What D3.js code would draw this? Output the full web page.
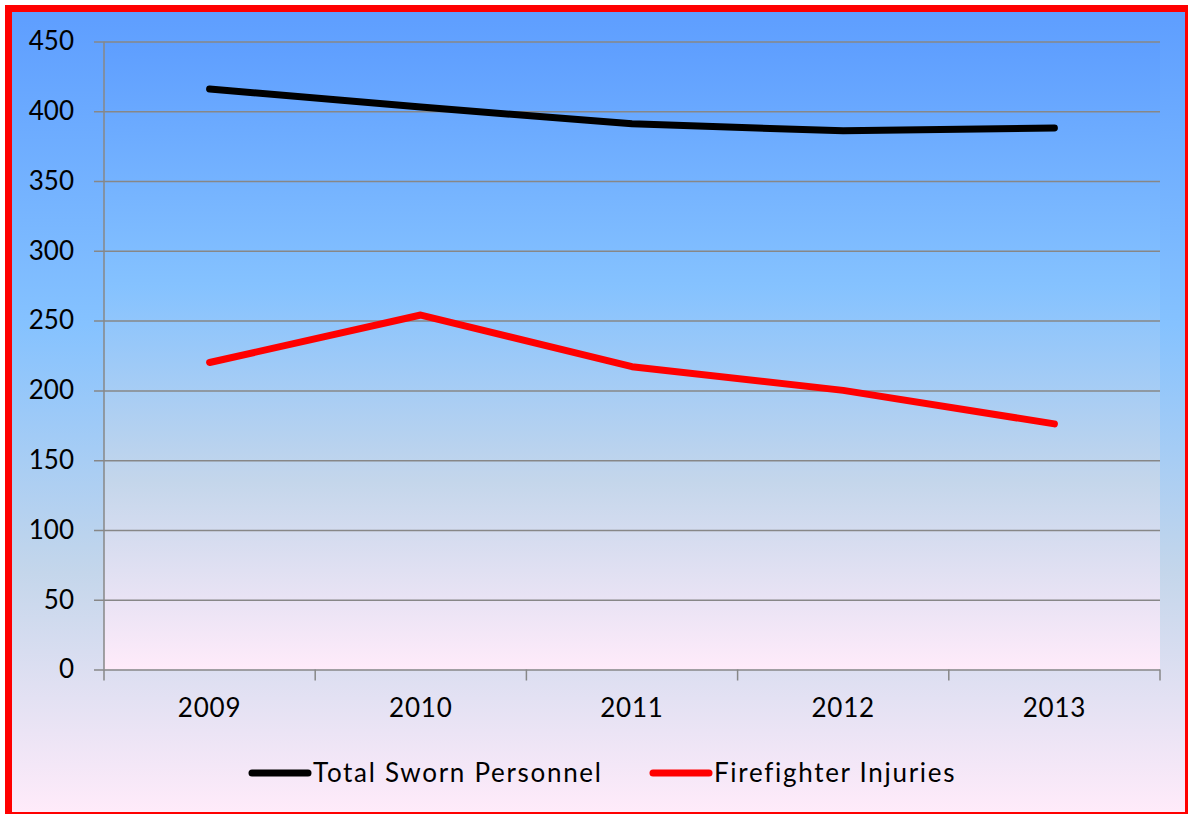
<!DOCTYPE html>
<html>
<head>
<meta charset="utf-8">
<script src="https://cdn.jsdelivr.net/npm/d3@7"></script>
<style>
body { margin: 0; background: #fff; }
text { font-family: Lato, "Open Sans", sans-serif; fill: #000; }
</style>
</head>
<body>
<svg width="1188" height="814"></svg>
<script>
const years = ["2009", "2010", "2011", "2012", "2013"]
const sworn = [416, 403, 391, 386, 388]
const injuries = [220, 254, 217, 200, 176]
const yTicks = [0, 50, 100, 150, 200, 250, 300, 350, 400, 450]
const seriesNames = ["Total Sworn Personnel", "Firefighter Injuries"]
const seriesColors = ["#000000", "#ff0000"]

const svg = d3.select("svg")
const plot = {left: 104, right: 1160, top: 41.5, bottom: 669.5}

// gradients
const defs = svg.append("defs")
function daybreak(id) {
  const g = defs.append("linearGradient")
    .attr("id", id)
    .attr("x1", 0).attr("y1", 0).attr("x2", 0).attr("y2", 1)
  const stops = [[0, "#5e9eff"], [0.39, "#85c2ff"], [0.7, "#c4d6eb"], [1, "#ffebfa"]]
  stops.forEach(s => g.append("stop").attr("offset", s[0]).attr("stop-color", s[1]))
}
daybreak("bg")
daybreak("plotbg")

// frame
svg.append("rect")
  .attr("x", 5).attr("y", 5).attr("width", 1183).attr("height", 809)
  .attr("fill", "#ff0000")
svg.append("rect")
  .attr("x", 12).attr("y", 12).attr("width", 1173).attr("height", 800)
  .attr("fill", "url(#bg)")
svg.append("rect")
  .attr("x", plot.left).attr("y", plot.top)
  .attr("width", plot.right - plot.left).attr("height", plot.bottom - plot.top)
  .attr("fill", "url(#plotbg)")

const x = d3.scaleBand()
  .domain(years)
  .range([plot.left, plot.right])
  .padding(0)

const y = d3.scaleLinear()
  .domain([0, 450])
  .range([plot.bottom, plot.top])

const cx = d => x(d) + x.bandwidth() / 2

// y axis with gridlines
const yAxis = svg.append("g")
  .attr("transform", `translate(${plot.left}, 0)`)
  .call(d3.axisLeft(y)
    .tickValues(yTicks)
    .tickSize(-(plot.right - plot.left))
    .tickPadding(30)
    .tickFormat(d3.format("d")))
yAxis.select(".domain").attr("stroke", "#878787").attr("stroke-width", 1.5)
  .attr("d", `M0,${plot.top}V${plot.bottom}`)
yAxis.selectAll(".tick line")
  .attr("x1", -10)
  .attr("stroke", "#878787").attr("stroke-width", 1.5)
yAxis.selectAll(".tick text")
  .attr("font-size", 26)
  .attr("font-family", "Lato, sans-serif")
  .attr("fill", "#000")

// x axis
const xAxis = svg.append("g")
  .attr("transform", `translate(0, ${plot.bottom})`)
  .call(d3.axisBottom(x).tickSize(0).tickPadding(30))
xAxis.select(".domain").remove()
xAxis.selectAll(".tick text")
  .attr("font-size", 26)
  .attr("font-family", "Lato, sans-serif")
  .attr("fill", "#000")
  .attr("letter-spacing", 0.8)
  .attr("dy", "0.71em")
  .attr("y", 29)

const bounds = years.map(d => x(d)).concat([plot.right])
svg.append("g")
  .selectAll("line")
  .data(bounds)
  .join("line")
  .attr("x1", d => d).attr("x2", d => d)
  .attr("y1", plot.bottom).attr("y2", plot.bottom + 11)
  .attr("stroke", "#878787").attr("stroke-width", 1.5)

// lines
const line = d3.line()
  .x((d, i) => cx(years[i]))
  .y(d => y(d))

;[sworn, injuries].forEach((s, i) => {
  svg.append("path")
    .datum(s)
    .attr("fill", "none")
    .attr("stroke", seriesColors[i])
    .attr("stroke-width", 7)
    .attr("stroke-linecap", "round")
    .attr("stroke-linejoin", "round")
    .attr("d", line)
})

// legend
const legendX = [252, 653]
const legend = svg.append("g")
  .selectAll("g")
  .data(seriesNames)
  .join("g")
  .attr("transform", (d, i) => `translate(${legendX[i]}, 773)`)
legend.append("line")
  .attr("x1", 0).attr("x2", 56)
  .attr("stroke", (d, i) => seriesColors[i])
  .attr("stroke-width", 7)
  .attr("stroke-linecap", "round")
legend.append("text")
  .attr("x", 61)
  .attr("y", 9)
  .attr("font-size", 26)
  .attr("letter-spacing", 1.7)
  .text(d => d)
</script>
</body>
</html>
